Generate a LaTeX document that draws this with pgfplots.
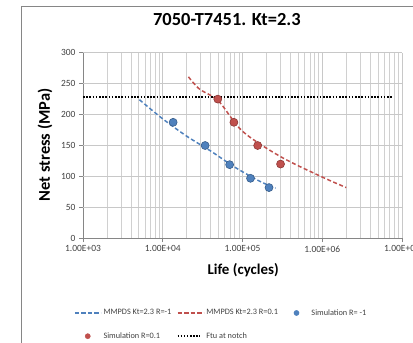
\documentclass[border=0pt]{standalone}
\usepackage{pgfplots}
\pgfplotsset{compat=1.18}
\usepackage{fontspec}
\setmainfont{Carlito}
\definecolor{xlblue}{HTML}{4F81BD}
\definecolor{xlblueD}{HTML}{385D8A}
\definecolor{xlred}{HTML}{C0504D}
\definecolor{xlredD}{HTML}{8C3836}
\definecolor{gridc}{HTML}{C8C8C8}
\definecolor{axc}{HTML}{868686}
\definecolor{txt}{HTML}{404040}
\pgfplotsset{
  blueleg/.style={legend image code/.code={\draw[xlblue, line width=1.5bp, dash pattern=on 4.5bp off 2bp] (0bp,0bp) -- (26bp,0bp);}},
  redleg/.style={legend image code/.code={\draw[xlred, line width=1.5bp, dash pattern=on 4.5bp off 2bp] (0bp,0bp) -- (26bp,0bp);}},
  dotleg/.style={legend image code/.code={\draw[black, line width=1.5bp, dash pattern=on 1.5bp off 1.6bp] (0bp,0bp) -- (22bp,0bp);}},
  bmleg/.style={legend image code/.code={\fill[xlblue] (13bp,0bp) circle (2.6bp); \path[draw=none,fill=none] (0bp,-1bp) rectangle (26bp,1bp);}},
  rmleg/.style={legend image code/.code={\fill[xlred] (13bp,0bp) circle (2.6bp); \path[draw=none,fill=none] (0bp,-1bp) rectangle (26bp,1bp);}},
}
\begin{document}
\begin{tikzpicture}[x=1bp,y=1bp]
\useasboundingbox (0,0) rectangle (413,343);
\clip (0,0) rectangle (413,343);
\draw[color=axc, line width=1bp] (21,-5) -- (21,336.7) -- (420,336.7);
\begin{axis}[
  at={(83bp,104.7bp)}, anchor=south west,
  scale only axis, width=319bp, height=185.6bp,
  xmode=log, log basis x=10,
  xmin=1e3, xmax=1e7, ymin=0, ymax=300,
  ytick={0,50,100,150,200,250,300},
  xtick={1e3,1e4,1e5,1e6,1e7},
  minor xtick={2e3,3e3,4e3,5e3,6e3,7e3,8e3,9e3,2e4,3e4,4e4,5e4,6e4,7e4,8e4,9e4,2e5,3e5,4e5,5e5,6e5,7e5,8e5,9e5,2e6,3e6,4e6,5e6,6e6,7e6,8e6,9e6},
  xticklabels={1.00E+03,1.00E+04,1.00E+05,1.00E+06,1.00E+07},
  /pgf/number format/assume math mode=true,
  xmajorgrids=true, xminorgrids=true, ymajorgrids=true,
  major grid style={color=gridc, line width=1bp},
  minor grid style={color=gridc!85, line width=0.7bp},
  axis lines*=left,
  axis line style={color=axc, line width=0.8bp},
  tick style={color=axc, line width=0.8bp},
  major tick length=4bp, minor tick length=0bp,
  tick align=outside,
  ticklabel style={font=\fontsize{9.5}{11}\selectfont, color=txt},
  title={\fontsize{18.5}{21}\selectfont\bfseries 7050-T7451. Kt=2.3},
  title style={at={(axis description cs:0.451,1)}, anchor=center, yshift=27.7bp},
  xlabel={\fontsize{15}{17}\selectfont\bfseries Life (cycles)},
  xlabel style={at={(axis description cs:0.502,-0.171)}, anchor=center},
  ylabel={\fontsize{16.5}{19}\selectfont\bfseries Net stress (MPa)},
  ylabel style={at={(axis description cs:-0.119,0.503)}, anchor=center},
  legend columns=3,
  legend style={draw=none, fill=none, font=\fontsize{8.3}{9}\selectfont, text=txt,
    inner sep=0pt, outer sep=0pt,
    nodes={inner sep=2bp},
    at={(axis description cs:-0.0282,-0.372)}, anchor=north west,
    /tikz/every odd column/.append style={column sep=0bp},
    /tikz/every even column/.append style={column sep=3.5bp},
    row sep=12bp},
  legend cell align=left,
]
\pgfplotsinvokeforeach{50,100,150,200,250,300}{
  \draw[color=gridc, line width=1bp] (axis cs:1e3,#1) -- (axis cs:1e7,#1);
}
\addplot[color=xlblue, line width=1.5bp, dash pattern=on 4bp off 2.5bp, smooth, tension=0.5, blueleg]
  coordinates {(5.1e3,224) (1e4,193) (2e4,165) (4e4,141) (8e4,115) (1.6e5,93) (2.6e5,81)};
\addlegendentry{MMPDS Kt=2.3 R=-1}
\addplot[color=xlred, line width=1.5bp, dash pattern=on 4bp off 2.5bp, smooth, tension=0.5, redleg]
  coordinates {(2.1e4,261) (2.9e4,241) (5e4,222) (1e5,173) (3e5,132) (1e6,99) (2e6,82)};
\addlegendentry{MMPDS Kt=2.3 R=0.1}
\addplot[only marks, mark=*, mark size=4bp, mark options={fill=xlblue, draw=xlblueD, line width=0.6bp}, bmleg]
  coordinates {(1.35e4,187.5) (3.4e4,150) (6.9e4,119) (1.26e5,97) (2.15e5,82)};
\addlegendentry{Simulation R= -1}
\addplot[only marks, mark=*, mark size=4bp, mark options={fill=xlred, draw=xlredD, line width=0.6bp}, rmleg]
  coordinates {(4.9e4,225) (7.8e4,187.5) (1.55e5,150) (3.0e5,120)};
\addlegendentry{Simulation R=0.1}
\addplot[color=black, line width=1.6bp, dash pattern=on 1.6bp off 1.6bp, dotleg]
  coordinates {(1e3,228) (7.5e6,228)};
\addlegendentry{Ftu at notch}
\end{axis}
\end{tikzpicture}
\end{document}
